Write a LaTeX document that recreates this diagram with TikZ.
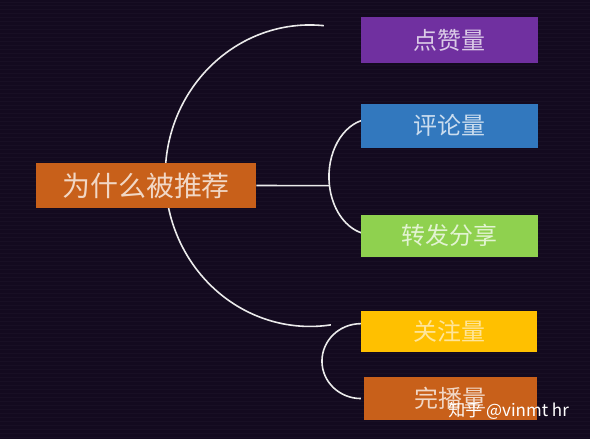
\documentclass[tikz,border=0pt]{standalone}
\usepackage{fontspec}
\newfontfamily\cjk{Noto Sans CJK SC}
\definecolor{bgc}{HTML}{130A1F}
\definecolor{cpurple}{HTML}{7030A0}
\definecolor{cblue}{HTML}{3278BE}
\definecolor{cgreen}{HTML}{8FD14F}
\definecolor{cyellow}{HTML}{FFC000}
\definecolor{corange}{HTML}{C8601A}
\tikzset{
  box/.style={fill=#1, minimum width=177pt, minimum height=44pt, inner sep=0pt,
    text=white, text opacity=0.75, font=\cjk\fontsize{24}{28}\selectfont},
  link/.style={draw=white!92!black, line width=1.6pt},
}
\begin{document}
\begin{tikzpicture}[x=1pt,y=-1pt]
\fill[bgc] (0,0) rectangle (590,440);
\foreach \yy in {2,6,...,438} \draw[white, opacity=0.025, line width=1pt] (0,\yy) -- (590,\yy);
\useasboundingbox (0,0) rectangle (590,440);

% connectors (drawn first, boxes on top)
\coordinate (bigc) at (310,176);
\coordinate (smc) at (372,177);
\coordinate (lowc) at (361,361.7);
\draw[link] (bigc) ++(-84.5:145 and 151) arc[start angle=-84.5, end angle=-278.3, x radius=145, y radius=151];
\draw[link] (smc) ++(-104:43 and 58) arc[start angle=-104, end angle=-256, x radius=43, y radius=58];
\draw[link] (lowc) ++(-90:39 and 37.5) arc[start angle=-90, end angle=-270, x radius=39, y radius=37.5];

\node[box=corange, minimum width=220.5pt, minimum height=45pt, font=\cjk\fontsize{28}{32}\selectfont] (main) at (145.8,185.8) {为什么被推荐};
\node[box=cpurple, minimum height=45.4pt] (like) at (449.5,40) {点赞量};
\node[box=cblue] (comment) at (449.5,126) {评论量};
\node[box=cgreen, minimum height=42pt] (share) at (449.5,236) {转发分享};
\node[box=cyellow, minimum height=41pt, text opacity=0.6] (follow) at (449.3,331.7) {关注量};
\node[box=corange, minimum width=173.4pt, minimum height=43.4pt] (finish) at (451,399) {完播量};

\coordinate (hl) at (329.5,186);
\draw[link] (main.east) -- (hl);

\node[text=white, font=\cjk\fontsize{17}{20}\selectfont, inner sep=0pt] (wm) at (509,412) {知乎 @vinmt hr};
\end{tikzpicture}
\end{document}
